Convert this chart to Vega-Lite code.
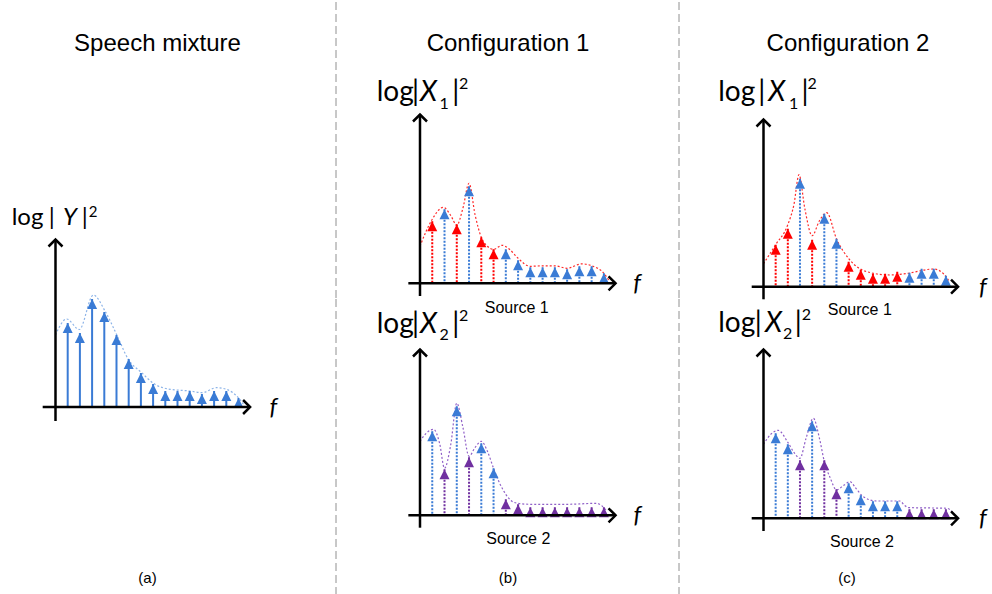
{
  "$schema": "https://vega.github.io/schema/vega-lite/v6.json",
  "padding": 0,
  "background": "white",
  "bounds": "flush",
  "spacing": 0,
  "columns": 3,
  "config": {
    "view": {"stroke": null},
    "axis": {"disable": true},
    "text": {"font": "Lato", "color": "black"},
    "point": {"opacity": 1}
  },
  "datasets": {
    "stems": [
      {"panel":"A","k":1,"h":84,"role":"mix"},{"panel":"A","k":2,"h":74,"role":"mix"},{"panel":"A","k":3,"h":108,"role":"mix"},{"panel":"A","k":4,"h":95,"role":"mix"},{"panel":"A","k":5,"h":72,"role":"mix"},{"panel":"A","k":6,"h":48,"role":"mix"},{"panel":"A","k":7,"h":34,"role":"mix"},{"panel":"A","k":8,"h":23,"role":"mix"},{"panel":"A","k":9,"h":16,"role":"mix"},{"panel":"A","k":10,"h":16,"role":"mix"},{"panel":"A","k":11,"h":16,"role":"mix"},{"panel":"A","k":12,"h":13,"role":"mix"},{"panel":"A","k":13,"h":16,"role":"mix"},{"panel":"A","k":14,"h":16,"role":"mix"},{"panel":"A","k":15,"h":9,"role":"mix"},
      {"panel":"B1","k":1,"h":62,"role":"s1"},{"panel":"B1","k":2,"h":74,"role":"dom"},{"panel":"B1","k":3,"h":59,"role":"s1"},{"panel":"B1","k":4,"h":97,"role":"dom"},{"panel":"B1","k":5,"h":46,"role":"s1"},{"panel":"B1","k":6,"h":34,"role":"s1"},{"panel":"B1","k":7,"h":34,"role":"dom"},{"panel":"B1","k":8,"h":23,"role":"dom"},{"panel":"B1","k":9,"h":16,"role":"dom"},{"panel":"B1","k":10,"h":16,"role":"dom"},{"panel":"B1","k":11,"h":16,"role":"dom"},{"panel":"B1","k":12,"h":14,"role":"dom"},{"panel":"B1","k":13,"h":17,"role":"dom"},{"panel":"B1","k":14,"h":17,"role":"dom"},{"panel":"B1","k":15,"h":10,"role":"dom"},
      {"panel":"B2","k":1,"h":84,"role":"dom"},{"panel":"B2","k":2,"h":46,"role":"s2"},{"panel":"B2","k":3,"h":109,"role":"dom"},{"panel":"B2","k":4,"h":58,"role":"s2"},{"panel":"B2","k":5,"h":72,"role":"dom"},{"panel":"B2","k":6,"h":47,"role":"dom"},{"panel":"B2","k":7,"h":16,"role":"s2"},{"panel":"B2","k":8,"h":11,"role":"s2"},{"panel":"B2","k":9,"h":8,"role":"s2"},{"panel":"B2","k":10,"h":8,"role":"s2"},{"panel":"B2","k":11,"h":8,"role":"s2"},{"panel":"B2","k":12,"h":8,"role":"s2"},{"panel":"B2","k":13,"h":8,"role":"s2"},{"panel":"B2","k":14,"h":8,"role":"s2"},{"panel":"B2","k":15,"h":8,"role":"s2"},
      {"panel":"C1","k":1,"h":42,"role":"s1"},{"panel":"C1","k":2,"h":58,"role":"s1"},{"panel":"C1","k":3,"h":108,"role":"dom"},{"panel":"C1","k":4,"h":47,"role":"s1"},{"panel":"C1","k":5,"h":73,"role":"dom"},{"panel":"C1","k":6,"h":48,"role":"dom"},{"panel":"C1","k":7,"h":25,"role":"s1"},{"panel":"C1","k":8,"h":17,"role":"s1"},{"panel":"C1","k":9,"h":13,"role":"s1"},{"panel":"C1","k":10,"h":13,"role":"s1"},{"panel":"C1","k":11,"h":15,"role":"s1"},{"panel":"C1","k":12,"h":14,"role":"dom"},{"panel":"C1","k":13,"h":18,"role":"dom"},{"panel":"C1","k":14,"h":18,"role":"dom"},{"panel":"C1","k":15,"h":11,"role":"dom"},
      {"panel":"C2","k":1,"h":85,"role":"dom"},{"panel":"C2","k":2,"h":74,"role":"dom"},{"panel":"C2","k":3,"h":58,"role":"s2"},{"panel":"C2","k":4,"h":97,"role":"dom"},{"panel":"C2","k":5,"h":58,"role":"s2"},{"panel":"C2","k":6,"h":29,"role":"s2"},{"panel":"C2","k":7,"h":35,"role":"dom"},{"panel":"C2","k":8,"h":23,"role":"dom"},{"panel":"C2","k":9,"h":17,"role":"dom"},{"panel":"C2","k":10,"h":17,"role":"dom"},{"panel":"C2","k":11,"h":17,"role":"dom"},{"panel":"C2","k":12,"h":9,"role":"s2"},{"panel":"C2","k":13,"h":9,"role":"s2"},{"panel":"C2","k":14,"h":9,"role":"s2"},{"panel":"C2","k":15,"h":9,"role":"s2"}
    ],
    "env": [
      {"panel":"A","k":0,"h":72},{"panel":"A","k":0.92,"h":88},{"panel":"A","k":1.95,"h":77.5},{"panel":"A","k":3.1,"h":112},{"panel":"A","k":4.06,"h":96},{"panel":"A","k":5.0,"h":72.7},{"panel":"A","k":5.97,"h":47.7},{"panel":"A","k":7.06,"h":34.3},{"panel":"A","k":8.15,"h":22.7},{"panel":"A","k":9.4,"h":17.7},{"panel":"A","k":11,"h":16},{"panel":"A","k":12,"h":14.3},{"panel":"A","k":13.2,"h":19.3},{"panel":"A","k":14,"h":17.7},{"panel":"A","k":15.1,"h":7.7},{"panel":"A","k":15.5,"h":1},
      {"panel":"B1","k":0,"h":37},{"panel":"B1","k":0.5,"h":52},{"panel":"B1","k":1,"h":64},{"panel":"B1","k":1.9,"h":76},{"panel":"B1","k":2.5,"h":68},{"panel":"B1","k":3,"h":58},{"panel":"B1","k":3.5,"h":75},{"panel":"B1","k":4,"h":100},{"panel":"B1","k":4.5,"h":68},{"panel":"B1","k":5,"h":46},{"panel":"B1","k":5.5,"h":37},{"panel":"B1","k":6,"h":34},{"panel":"B1","k":6.7,"h":38},{"panel":"B1","k":7.3,"h":34},{"panel":"B1","k":8,"h":25},{"panel":"B1","k":9,"h":17},{"panel":"B1","k":10,"h":17.5},{"panel":"B1","k":11,"h":17.5},{"panel":"B1","k":12,"h":15},{"panel":"B1","k":13.2,"h":19.5},{"panel":"B1","k":14,"h":17.5},{"panel":"B1","k":15,"h":10},{"panel":"B1","k":15.4,"h":3},
      {"panel":"B2","k":0,"h":74},{"panel":"B2","k":0.5,"h":82},{"panel":"B2","k":1.1,"h":86},{"panel":"B2","k":1.6,"h":72},{"panel":"B2","k":2,"h":47},{"panel":"B2","k":2.5,"h":70},{"panel":"B2","k":3,"h":112},{"panel":"B2","k":3.5,"h":88},{"panel":"B2","k":4,"h":59},{"panel":"B2","k":4.5,"h":68},{"panel":"B2","k":5,"h":74},{"panel":"B2","k":5.5,"h":64},{"panel":"B2","k":6,"h":47},{"panel":"B2","k":6.5,"h":32},{"panel":"B2","k":7,"h":21},{"panel":"B2","k":7.5,"h":14},{"panel":"B2","k":8,"h":12},{"panel":"B2","k":9,"h":11},{"panel":"B2","k":12,"h":11},{"panel":"B2","k":14.4,"h":12},{"panel":"B2","k":15.2,"h":5},
      {"panel":"C1","k":0,"h":23},{"panel":"C1","k":1,"h":42},{"panel":"C1","k":2,"h":62},{"panel":"C1","k":2.5,"h":82},{"panel":"C1","k":2.92,"h":112},{"panel":"C1","k":3.4,"h":78},{"panel":"C1","k":4,"h":51},{"panel":"C1","k":4.6,"h":66},{"panel":"C1","k":5.2,"h":74},{"panel":"C1","k":6,"h":48},{"panel":"C1","k":7.1,"h":26.7},{"panel":"C1","k":8.5,"h":15},{"panel":"C1","k":10.4,"h":11.7},{"panel":"C1","k":11.8,"h":13.3},{"panel":"C1","k":14,"h":17.7},{"panel":"C1","k":14.8,"h":13},{"panel":"C1","k":15.3,"h":5},
      {"panel":"C2","k":0,"h":74},{"panel":"C2","k":0.6,"h":84},{"panel":"C2","k":1.2,"h":88},{"panel":"C2","k":2,"h":76},{"panel":"C2","k":2.5,"h":66},{"panel":"C2","k":3,"h":60},{"panel":"C2","k":3.5,"h":80},{"panel":"C2","k":4.1,"h":100},{"panel":"C2","k":4.6,"h":80},{"panel":"C2","k":5,"h":57},{"panel":"C2","k":5.5,"h":40},{"panel":"C2","k":6,"h":28.5},{"panel":"C2","k":6.6,"h":33},{"panel":"C2","k":7.1,"h":36.7},{"panel":"C2","k":7.6,"h":30},{"panel":"C2","k":8.2,"h":21.7},{"panel":"C2","k":9.3,"h":17.3},{"panel":"C2","k":11.2,"h":17.3},{"panel":"C2","k":11.6,"h":13},{"panel":"C2","k":11.9,"h":10.7},{"panel":"C2","k":15.1,"h":10},{"panel":"C2","k":15.6,"h":5}
    ]
  },
  "concat": [
    {
      "width": 336, "height": 297,
      "data": {"values": [{}]},
      "mark": {"type": "text", "text": "Speech mixture", "font": "Liberation Sans", "fontSize": 24, "align": "center", "baseline": "alphabetic"},
      "encoding": {"x": {"datum": 8.36, "scale": {"domain": [-4.549, 22.992], "nice": false, "zero": false}, "axis": null},
                   "y": {"datum": 356, "scale": {"domain": [109, 406], "nice": false, "zero": false}, "axis": null}}
    },
    {
      "width": 343, "height": 297,
      "layer": [
        {"data": {"name": "env"}, "transform": [{"filter": "datum.panel === 'B1'"}],
         "mark": {"type": "line", "interpolate": "monotone", "strokeDash": [2, 2], "strokeWidth": 1.2, "color": "#ff2a2a"},
         "encoding": {"x": {"field": "k", "type": "quantitative", "scale": {"domain": [-6.851, 21.126], "nice": false, "zero": false}, "axis": null},
                      "y": {"field": "h", "type": "quantitative", "scale": {"domain": [-14.7, 282.3], "nice": false, "zero": false}, "axis": null}}},
        {"data": {"name": "stems"}, "transform": [{"filter": "datum.panel === 'B1'"}],
         "layer": [
           {"mark": {"type": "rule", "strokeWidth": 2, "strokeDash": [2, 1.5]},
            "encoding": {"x": {"field": "k", "type": "quantitative"}, "y": {"field": "h", "type": "quantitative"}, "y2": {"datum": 0},
                         "color": {"field": "role", "type": "nominal", "scale": {"domain": ["mix", "dom", "s1", "s2"], "range": ["#3a7bd5", "#3a7bd5", "#ff0000", "#7030a0"]}, "legend": null}}},
           {"mark": {"type": "point", "shape": "M0,0L1,2L-1,2Z", "size": 100, "filled": true, "opacity": 1},
            "encoding": {"x": {"field": "k", "type": "quantitative"}, "y": {"field": "h", "type": "quantitative"},
                         "color": {"field": "role", "type": "nominal", "legend": null}}}
         ]},
        {"data": {"values": [{}]},
         "layer": [
           {"mark": {"type": "rule", "strokeWidth": 1, "color": "#909090", "strokeDash": [8, 4]}, "encoding": {"x": {"datum": -6.851}, "y": {"datum": -14.7}, "y2": {"datum": 282.3}}},
           {"mark": {"type": "rule", "strokeWidth": 2.5, "color": "black"}, "encoding": {"x": {"datum": 0}, "y": {"datum": -12.7}, "y2": {"datum": 168.8}}},
           {"mark": {"type": "rule", "strokeWidth": 2.5, "color": "black"}, "encoding": {"y": {"datum": 0}, "x": {"datum": -0.95}, "x2": {"datum": 15.95}}},
           {"mark": {"type": "point", "shape": "M-1,1L0,0L1,1", "size": 196, "filled": false, "strokeWidth": 2.5, "color": "black", "opacity": 1}, "encoding": {"x": {"datum": 0}, "y": {"datum": 168.8}}},
           {"mark": {"type": "point", "shape": "M-1,-1L0,0L-1,1", "size": 196, "filled": false, "strokeWidth": 2.5, "color": "black", "opacity": 1}, "encoding": {"x": {"datum": 15.95}, "y": {"datum": 0}}},
           {"mark": {"type": "text", "text": "f", "fontStyle": "italic", "fontSize": 24, "align": "center", "baseline": "middle"}, "encoding": {"x": {"datum": 17.7}, "y": {"datum": -0.7}}},
           {"mark": {"type": "text", "text": "Configuration 1", "font": "Liberation Sans", "fontSize": 24, "align": "center", "baseline": "alphabetic"}, "encoding": {"x": {"datum": 7.18}, "y": {"datum": 232.3}}},
           {"mark": {"type": "text", "text": "Source 1", "font": "Liberation Sans", "fontSize": 16, "align": "center", "baseline": "middle"}, "encoding": {"x": {"datum": 7.89}, "y": {"datum": -24.7}}},
           {"mark": {"type": "text", "text": "log", "fontSize": 28, "align": "left", "baseline": "alphabetic"}, "encoding": {"x": {"datum": -3.53}, "y": {"datum": 182.3}}},
           {"mark": {"type": "text", "text": "|", "fontSize": 28, "align": "center", "baseline": "alphabetic"}, "encoding": {"x": {"datum": -0.37}, "y": {"datum": 182.3}}},
           {"mark": {"type": "text", "text": "X", "fontStyle": "italic", "fontSize": 28, "align": "left", "baseline": "alphabetic"}, "encoding": {"x": {"datum": 0.0}, "y": {"datum": 182.3}}},
           {"mark": {"type": "text", "text": "1", "fontSize": 16, "align": "left", "baseline": "alphabetic"}, "encoding": {"x": {"datum": 1.6}, "y": {"datum": 174.5}}},
           {"mark": {"type": "text", "text": "|", "fontSize": 28, "align": "center", "baseline": "alphabetic"}, "encoding": {"x": {"datum": 2.92}, "y": {"datum": 182.3}}},
           {"mark": {"type": "text", "text": "2", "fontSize": 16, "align": "left", "baseline": "alphabetic"}, "encoding": {"x": {"datum": 3.18}, "y": {"datum": 194}}}
         ]}
      ]
    },
    {
      "width": 313, "height": 297,
      "layer": [
        {"data": {"name": "env"}, "transform": [{"filter": "datum.panel === 'C1'"}],
         "mark": {"type": "line", "interpolate": "monotone", "strokeDash": [2, 2], "strokeWidth": 1.2, "color": "#ff2a2a"},
         "encoding": {"x": {"field": "k", "type": "quantitative", "scale": {"domain": [-6.949, 18.791], "nice": false, "zero": false}, "axis": null},
                      "y": {"field": "h", "type": "quantitative", "scale": {"domain": [-11.3, 285.7], "nice": false, "zero": false}, "axis": null}}},
        {"data": {"name": "stems"}, "transform": [{"filter": "datum.panel === 'C1'"}],
         "layer": [
           {"mark": {"type": "rule", "strokeWidth": 2, "strokeDash": [2, 1.5]},
            "encoding": {"x": {"field": "k", "type": "quantitative"}, "y": {"field": "h", "type": "quantitative"}, "y2": {"datum": 0},
                         "color": {"field": "role", "type": "nominal", "scale": {"domain": ["mix", "dom", "s1", "s2"], "range": ["#3a7bd5", "#3a7bd5", "#ff0000", "#7030a0"]}, "legend": null}}},
           {"mark": {"type": "point", "shape": "M0,0L1,2L-1,2Z", "size": 100, "filled": true, "opacity": 1},
            "encoding": {"x": {"field": "k", "type": "quantitative"}, "y": {"field": "h", "type": "quantitative"},
                         "color": {"field": "role", "type": "nominal", "legend": null}}}
         ]},
        {"data": {"values": [{}]},
         "layer": [
           {"mark": {"type": "rule", "strokeWidth": 1, "color": "#909090", "strokeDash": [8, 4]}, "encoding": {"x": {"datum": -6.949}, "y": {"datum": -11.3}, "y2": {"datum": 285.7}}},
           {"mark": {"type": "rule", "strokeWidth": 2.5, "color": "black"}, "encoding": {"x": {"datum": 0}, "y": {"datum": -12.6}, "y2": {"datum": 167.2}}},
           {"mark": {"type": "rule", "strokeWidth": 2.5, "color": "black"}, "encoding": {"y": {"datum": 0}, "x": {"datum": -0.97}, "x2": {"datum": 16.0}}},
           {"mark": {"type": "point", "shape": "M-1,1L0,0L1,1", "size": 196, "filled": false, "strokeWidth": 2.5, "color": "black", "opacity": 1}, "encoding": {"x": {"datum": 0}, "y": {"datum": 167.2}}},
           {"mark": {"type": "point", "shape": "M-1,-1L0,0L-1,1", "size": 196, "filled": false, "strokeWidth": 2.5, "color": "black", "opacity": 1}, "encoding": {"x": {"datum": 16.0}, "y": {"datum": 0}}},
           {"mark": {"type": "text", "text": "f", "fontStyle": "italic", "fontSize": 24, "align": "center", "baseline": "middle"}, "encoding": {"x": {"datum": 18.03}, "y": {"datum": -1}}},
           {"mark": {"type": "text", "text": "Configuration 2", "font": "Liberation Sans", "fontSize": 24, "align": "center", "baseline": "alphabetic"}, "encoding": {"x": {"datum": 6.95}, "y": {"datum": 235.7}}},
           {"mark": {"type": "text", "text": "Source 1", "font": "Liberation Sans", "fontSize": 16, "align": "center", "baseline": "middle"}, "encoding": {"x": {"datum": 7.92}, "y": {"datum": -23.6}}},
           {"mark": {"type": "text", "text": "log", "fontSize": 28, "align": "left", "baseline": "alphabetic"}, "encoding": {"x": {"datum": -3.72}, "y": {"datum": 185.7}}},
           {"mark": {"type": "text", "text": "|", "fontSize": 28, "align": "center", "baseline": "alphabetic"}, "encoding": {"x": {"datum": -0.15}, "y": {"datum": 185.7}}},
           {"mark": {"type": "text", "text": "X", "fontStyle": "italic", "fontSize": 28, "align": "left", "baseline": "alphabetic"}, "encoding": {"x": {"datum": 0.39}, "y": {"datum": 185.7}}},
           {"mark": {"type": "text", "text": "1", "fontSize": 16, "align": "left", "baseline": "alphabetic"}, "encoding": {"x": {"datum": 2.1}, "y": {"datum": 177.7}}},
           {"mark": {"type": "text", "text": "|", "fontSize": 28, "align": "center", "baseline": "alphabetic"}, "encoding": {"x": {"datum": 3.41}, "y": {"datum": 185.7}}},
           {"mark": {"type": "text", "text": "2", "fontSize": 16, "align": "left", "baseline": "alphabetic"}, "encoding": {"x": {"datum": 3.62}, "y": {"datum": 197.4}}}
         ]}
      ]
    },
    {
      "width": 336, "height": 297,
      "layer": [
        {"data": {"name": "env"}, "transform": [{"filter": "datum.panel === 'A'"}],
         "mark": {"type": "line", "interpolate": "monotone", "strokeDash": [2, 2], "strokeWidth": 1.2, "color": "#8db4e8"},
         "encoding": {"x": {"field": "k", "type": "quantitative", "scale": {"domain": [-4.549, 22.992], "nice": false, "zero": false}, "axis": null},
                      "y": {"field": "h", "type": "quantitative", "scale": {"domain": [-188, 109], "nice": false, "zero": false}, "axis": null}}},
        {"data": {"name": "stems"}, "transform": [{"filter": "datum.panel === 'A'"}],
         "layer": [
           {"mark": {"type": "rule", "strokeWidth": 2},
            "encoding": {"x": {"field": "k", "type": "quantitative"}, "y": {"field": "h", "type": "quantitative"}, "y2": {"datum": 0},
                         "color": {"field": "role", "type": "nominal", "scale": {"domain": ["mix", "dom", "s1", "s2"], "range": ["#3a7bd5", "#3a7bd5", "#ff0000", "#7030a0"]}, "legend": null}}},
           {"mark": {"type": "point", "shape": "M0,0L1,2L-1,2Z", "size": 100, "filled": true, "opacity": 1},
            "encoding": {"x": {"field": "k", "type": "quantitative"}, "y": {"field": "h", "type": "quantitative"},
                         "color": {"field": "role", "type": "nominal", "legend": null}}}
         ]},
        {"data": {"values": [{}]},
         "layer": [
           {"mark": {"type": "rule", "strokeWidth": 2.5, "color": "black"}, "encoding": {"x": {"datum": 0}, "y": {"datum": -14}, "y2": {"datum": 167.5}}},
           {"mark": {"type": "rule", "strokeWidth": 2.5, "color": "black"}, "encoding": {"y": {"datum": 0}, "x": {"datum": -1.05}, "x2": {"datum": 15.95}}},
           {"mark": {"type": "point", "shape": "M-1,1L0,0L1,1", "size": 196, "filled": false, "strokeWidth": 2.5, "color": "black", "opacity": 1}, "encoding": {"x": {"datum": 0}, "y": {"datum": 167.5}}},
           {"mark": {"type": "point", "shape": "M-1,-1L0,0L-1,1", "size": 196, "filled": false, "strokeWidth": 2.5, "color": "black", "opacity": 1}, "encoding": {"x": {"datum": 15.95}, "y": {"datum": 0}}},
           {"mark": {"type": "text", "text": "f", "fontStyle": "italic", "fontSize": 24, "align": "center", "baseline": "middle"}, "encoding": {"x": {"datum": 17.85}, "y": {"datum": -0.7}}},
           {"mark": {"type": "text", "text": "(a)", "font": "Liberation Sans", "fontSize": 15, "align": "center", "baseline": "middle"}, "encoding": {"x": {"datum": 7.54}, "y": {"datum": -171}}},
           {"mark": {"type": "text", "text": "log", "fontSize": 24, "align": "left", "baseline": "alphabetic"}, "encoding": {"x": {"datum": -3.59}, "y": {"datum": 181.7}}},
           {"mark": {"type": "text", "text": "|", "fontSize": 24, "align": "center", "baseline": "alphabetic"}, "encoding": {"x": {"datum": -0.31}, "y": {"datum": 181.7}}},
           {"mark": {"type": "text", "text": "Y", "fontStyle": "italic", "fontSize": 24, "align": "left", "baseline": "alphabetic"}, "encoding": {"x": {"datum": 0.61}, "y": {"datum": 181.7}}},
           {"mark": {"type": "text", "text": "|", "fontSize": 24, "align": "center", "baseline": "alphabetic"}, "encoding": {"x": {"datum": 2.4}, "y": {"datum": 181.7}}},
           {"mark": {"type": "text", "text": "2", "fontSize": 15, "align": "left", "baseline": "alphabetic"}, "encoding": {"x": {"datum": 2.72}, "y": {"datum": 190.5}}}
         ]}
      ]
    },
    {
      "width": 343, "height": 297,
      "layer": [
        {"data": {"name": "env"}, "transform": [{"filter": "datum.panel === 'B2'"}],
         "mark": {"type": "line", "interpolate": "monotone", "strokeDash": [2, 2], "strokeWidth": 1.2, "color": "#9060c8"},
         "encoding": {"x": {"field": "k", "type": "quantitative", "scale": {"domain": [-6.851, 21.126], "nice": false, "zero": false}, "axis": null},
                      "y": {"field": "h", "type": "quantitative", "scale": {"domain": [-79.7, 217.3], "nice": false, "zero": false}, "axis": null}}},
        {"data": {"name": "stems"}, "transform": [{"filter": "datum.panel === 'B2'"}],
         "layer": [
           {"mark": {"type": "rule", "strokeWidth": 2, "strokeDash": [2, 1.5]},
            "encoding": {"x": {"field": "k", "type": "quantitative"}, "y": {"field": "h", "type": "quantitative"}, "y2": {"datum": 0},
                         "color": {"field": "role", "type": "nominal", "scale": {"domain": ["mix", "dom", "s1", "s2"], "range": ["#3a7bd5", "#3a7bd5", "#ff0000", "#7030a0"]}, "legend": null}}},
           {"mark": {"type": "point", "shape": "M0,0L1,2L-1,2Z", "size": 100, "filled": true, "opacity": 1},
            "encoding": {"x": {"field": "k", "type": "quantitative"}, "y": {"field": "h", "type": "quantitative"},
                         "color": {"field": "role", "type": "nominal", "legend": null}}}
         ]},
        {"data": {"values": [{}]},
         "layer": [
           {"mark": {"type": "rule", "strokeWidth": 1, "color": "#909090", "strokeDash": [8, 4]}, "encoding": {"x": {"datum": -6.851}, "y": {"datum": -79.7}, "y2": {"datum": 217.3}}},
           {"mark": {"type": "rule", "strokeWidth": 2.5, "color": "black"}, "encoding": {"x": {"datum": 0}, "y": {"datum": -12.4}, "y2": {"datum": 165.8}}},
           {"mark": {"type": "rule", "strokeWidth": 2.5, "color": "black"}, "encoding": {"y": {"datum": 0}, "x": {"datum": -0.95}, "x2": {"datum": 15.95}}},
           {"mark": {"type": "point", "shape": "M-1,1L0,0L1,1", "size": 196, "filled": false, "strokeWidth": 2.5, "color": "black", "opacity": 1}, "encoding": {"x": {"datum": 0}, "y": {"datum": 165.8}}},
           {"mark": {"type": "point", "shape": "M-1,-1L0,0L-1,1", "size": 196, "filled": false, "strokeWidth": 2.5, "color": "black", "opacity": 1}, "encoding": {"x": {"datum": 15.95}, "y": {"datum": 0}}},
           {"mark": {"type": "text", "text": "f", "fontStyle": "italic", "fontSize": 24, "align": "center", "baseline": "middle"}, "encoding": {"x": {"datum": 17.72}, "y": {"datum": -0.7}}},
           {"mark": {"type": "text", "text": "Source 2", "font": "Liberation Sans", "fontSize": 16, "align": "center", "baseline": "middle"}, "encoding": {"x": {"datum": 8.02}, "y": {"datum": -24}}},
           {"mark": {"type": "text", "text": "(b)", "font": "Liberation Sans", "fontSize": 15, "align": "center", "baseline": "middle"}, "encoding": {"x": {"datum": 7.18}, "y": {"datum": -62.7}}},
           {"mark": {"type": "text", "text": "log", "fontSize": 28, "align": "left", "baseline": "alphabetic"}, "encoding": {"x": {"datum": -3.53}, "y": {"datum": 182.6}}},
           {"mark": {"type": "text", "text": "|", "fontSize": 28, "align": "center", "baseline": "alphabetic"}, "encoding": {"x": {"datum": -0.37}, "y": {"datum": 182.6}}},
           {"mark": {"type": "text", "text": "X", "fontStyle": "italic", "fontSize": 28, "align": "left", "baseline": "alphabetic"}, "encoding": {"x": {"datum": 0.0}, "y": {"datum": 182.6}}},
           {"mark": {"type": "text", "text": "2", "fontSize": 16, "align": "left", "baseline": "alphabetic"}, "encoding": {"x": {"datum": 1.6}, "y": {"datum": 175}}},
           {"mark": {"type": "text", "text": "|", "fontSize": 28, "align": "center", "baseline": "alphabetic"}, "encoding": {"x": {"datum": 2.92}, "y": {"datum": 182.6}}},
           {"mark": {"type": "text", "text": "2", "fontSize": 16, "align": "left", "baseline": "alphabetic"}, "encoding": {"x": {"datum": 3.18}, "y": {"datum": 194.3}}}
         ]}
      ]
    },
    {
      "width": 313, "height": 297,
      "layer": [
        {"data": {"name": "env"}, "transform": [{"filter": "datum.panel === 'C2'"}],
         "mark": {"type": "line", "interpolate": "monotone", "strokeDash": [2, 2], "strokeWidth": 1.2, "color": "#9060c8"},
         "encoding": {"x": {"field": "k", "type": "quantitative", "scale": {"domain": [-6.949, 18.791], "nice": false, "zero": false}, "axis": null},
                      "y": {"field": "h", "type": "quantitative", "scale": {"domain": [-76.7, 220.3], "nice": false, "zero": false}, "axis": null}}},
        {"data": {"name": "stems"}, "transform": [{"filter": "datum.panel === 'C2'"}],
         "layer": [
           {"mark": {"type": "rule", "strokeWidth": 2, "strokeDash": [2, 1.5]},
            "encoding": {"x": {"field": "k", "type": "quantitative"}, "y": {"field": "h", "type": "quantitative"}, "y2": {"datum": 0},
                         "color": {"field": "role", "type": "nominal", "scale": {"domain": ["mix", "dom", "s1", "s2"], "range": ["#3a7bd5", "#3a7bd5", "#ff0000", "#7030a0"]}, "legend": null}}},
           {"mark": {"type": "point", "shape": "M0,0L1,2L-1,2Z", "size": 100, "filled": true, "opacity": 1},
            "encoding": {"x": {"field": "k", "type": "quantitative"}, "y": {"field": "h", "type": "quantitative"},
                         "color": {"field": "role", "type": "nominal", "legend": null}}}
         ]},
        {"data": {"values": [{}]},
         "layer": [
           {"mark": {"type": "rule", "strokeWidth": 1, "color": "#909090", "strokeDash": [8, 4]}, "encoding": {"x": {"datum": -6.949}, "y": {"datum": -76.7}, "y2": {"datum": 220.3}}},
           {"mark": {"type": "rule", "strokeWidth": 2.5, "color": "black"}, "encoding": {"x": {"datum": 0}, "y": {"datum": -12.7}, "y2": {"datum": 168.8}}},
           {"mark": {"type": "rule", "strokeWidth": 2.5, "color": "black"}, "encoding": {"y": {"datum": 0}, "x": {"datum": -0.97}, "x2": {"datum": 16.0}}},
           {"mark": {"type": "point", "shape": "M-1,1L0,0L1,1", "size": 196, "filled": false, "strokeWidth": 2.5, "color": "black", "opacity": 1}, "encoding": {"x": {"datum": 0}, "y": {"datum": 168.8}}},
           {"mark": {"type": "point", "shape": "M-1,-1L0,0L-1,1", "size": 196, "filled": false, "strokeWidth": 2.5, "color": "black", "opacity": 1}, "encoding": {"x": {"datum": 16.0}, "y": {"datum": 0}}},
           {"mark": {"type": "text", "text": "f", "fontStyle": "italic", "fontSize": 24, "align": "center", "baseline": "middle"}, "encoding": {"x": {"datum": 18.03}, "y": {"datum": -1}}},
           {"mark": {"type": "text", "text": "Source 2", "font": "Liberation Sans", "fontSize": 16, "align": "center", "baseline": "middle"}, "encoding": {"x": {"datum": 8.1}, "y": {"datum": -23.4}}},
           {"mark": {"type": "text", "text": "(c)", "font": "Liberation Sans", "fontSize": 15, "align": "center", "baseline": "middle"}, "encoding": {"x": {"datum": 6.87}, "y": {"datum": -59.7}}},
           {"mark": {"type": "text", "text": "log", "fontSize": 28, "align": "left", "baseline": "alphabetic"}, "encoding": {"x": {"datum": -3.72}, "y": {"datum": 186.6}}},
           {"mark": {"type": "text", "text": "|", "fontSize": 28, "align": "center", "baseline": "alphabetic"}, "encoding": {"x": {"datum": -0.43}, "y": {"datum": 186.6}}},
           {"mark": {"type": "text", "text": "X", "fontStyle": "italic", "fontSize": 28, "align": "left", "baseline": "alphabetic"}, "encoding": {"x": {"datum": 0.12}, "y": {"datum": 186.6}}},
           {"mark": {"type": "text", "text": "2", "fontSize": 16, "align": "left", "baseline": "alphabetic"}, "encoding": {"x": {"datum": 1.6}, "y": {"datum": 179}}},
           {"mark": {"type": "text", "text": "|", "fontSize": 28, "align": "center", "baseline": "alphabetic"}, "encoding": {"x": {"datum": 2.86}, "y": {"datum": 186.6}}},
           {"mark": {"type": "text", "text": "2", "fontSize": 16, "align": "left", "baseline": "alphabetic"}, "encoding": {"x": {"datum": 3.14}, "y": {"datum": 198.3}}}
         ]}
      ]
    }
  ]
}
